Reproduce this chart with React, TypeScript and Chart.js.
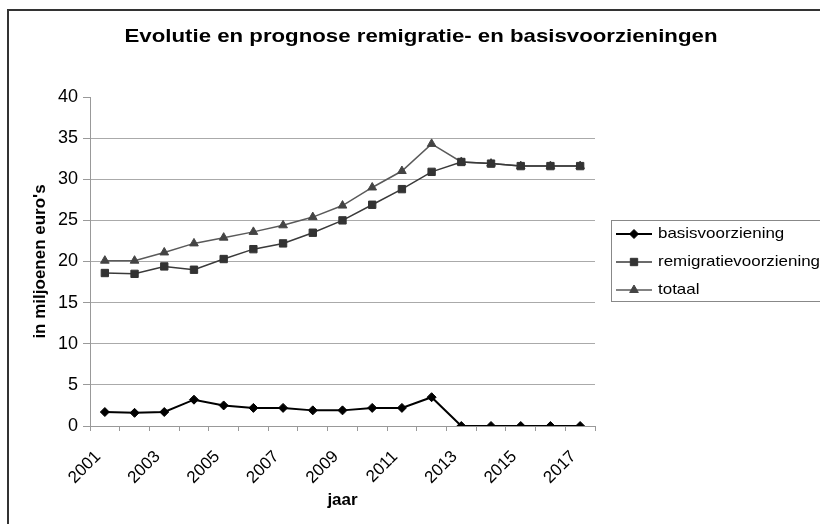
import React, { useEffect, useRef } from "react";
import { Chart, registerables } from "chart.js";

Chart.register(...registerables);

const years = ["2001","2002","2003","2004","2005","2006","2007","2008","2009","2010","2011","2012","2013","2014","2015","2016","2017"];
const basisvoorziening = [1.7, 1.6, 1.7, 3.2, 2.5, 2.2, 2.2, 1.9, 1.9, 2.2, 2.2, 3.5, 0, 0, 0, 0, 0];
const remigratievoorziening = [18.6, 18.5, 19.4, 19.0, 20.3, 21.5, 22.2, 23.5, 25.0, 26.9, 28.8, 30.9, 32.1, 31.9, 31.6, 31.6, 31.6];
const totaal = [20.1, 20.1, 21.1, 22.2, 22.9, 23.6, 24.4, 25.4, 26.8, 29.0, 31.0, 34.3, 32.1, 31.9, 31.6, 31.6, 31.6];
const yTicks = [0, 5, 10, 15, 20, 25, 30, 35, 40];
const chartTitle = "Evolutie en prognose remigratie- en basisvoorzieningen";

const FONT = "Arial, 'Liberation Sans', sans-serif";

function drawPoint(ctx: CanvasRenderingContext2D, style: string, r: number, x: number, y: number) {
  ctx.beginPath();
  if (style === "rectRot") {
    ctx.moveTo(x, y - r);
    ctx.lineTo(x + r, y);
    ctx.lineTo(x, y + r);
    ctx.lineTo(x - r, y);
    ctx.closePath();
  } else if (style === "rect") {
    const s = Math.SQRT1_2 * r;
    ctx.rect(x - s, y - s, 2 * s, 2 * s);
  } else {
    for (let k = 0; k < 3; k++) {
      const ang = -Math.PI / 2 + (k * 2 * Math.PI) / 3;
      const px = x + Math.cos(ang) * r;
      const py = y + Math.sin(ang) * r;
      if (k === 0) ctx.moveTo(px, py);
      else ctx.lineTo(px, py);
    }
    ctx.closePath();
  }
  ctx.fill();
  ctx.stroke();
}

const frameAndLegend = {
  id: "frameAndLegend",
  afterDraw(chart: any) {
    const ctx = chart.ctx as CanvasRenderingContext2D;
    ctx.save();
    // outer frame
    ctx.strokeStyle = "#333";
    ctx.lineWidth = 2;
    ctx.strokeRect(8, 10, 830, 530);
    // title (horizontally widened like the original)
    ctx.save();
    ctx.translate(421, 42);
    ctx.scale(1.17, 1);
    ctx.fillStyle = "#000";
    ctx.font = `bold 19px ${FONT}`;
    ctx.textAlign = "center";
    ctx.textBaseline = "alphabetic";
    ctx.fillText(chartTitle, 0, 0);
    ctx.restore();
    // legend box
    ctx.strokeStyle = "#888";
    ctx.lineWidth = 1;
    ctx.strokeRect(611.5, 220.5, 230, 81);
    const rows = [234, 262, 290];
    chart.data.datasets.forEach((ds: any, i: number) => {
      const y = rows[i];
      ctx.strokeStyle = ds.borderColor;
      ctx.lineWidth = ds.borderWidth;
      ctx.beginPath();
      ctx.moveTo(616, y);
      ctx.lineTo(652, y);
      ctx.stroke();
      ctx.fillStyle = ds.pointBackgroundColor;
      ctx.strokeStyle = ds.pointBorderColor;
      ctx.lineWidth = 1;
      drawPoint(ctx, ds.pointStyle, ds.pointRadius, 634, y);
      ctx.save();
      ctx.translate(658, y);
      ctx.scale(1.13, 1);
      ctx.fillStyle = "#000";
      ctx.font = `15px ${FONT}`;
      ctx.textBaseline = "middle";
      ctx.textAlign = "left";
      ctx.fillText(ds.label, 0, 0);
      ctx.restore();
    });
    ctx.restore();
  },
};

export default function App() {
  const ref = useRef<HTMLCanvasElement | null>(null);
  useEffect(() => {
    document.body.style.margin = "0";
    const canvas = ref.current!;
    const chart = new Chart(canvas, {
      type: "line",
      data: {
        labels: years,
        datasets: [
          {
            label: "basisvoorziening",
            data: basisvoorziening,
            borderColor: "#000",
            backgroundColor: "#000",
            pointBackgroundColor: "#000",
            pointBorderColor: "#000",
            borderWidth: 2,
            pointStyle: "rectRot",
            pointRadius: 4.5,
            pointBorderWidth: 1,
          },
          {
            label: "remigratievoorziening",
            data: remigratievoorziening,
            borderColor: "#3a3a3a",
            backgroundColor: "#333",
            pointBackgroundColor: "#333",
            pointBorderColor: "#333",
            borderWidth: 1.5,
            pointStyle: "rect",
            pointRadius: 5.2,
            pointBorderWidth: 1,
          },
          {
            label: "totaal",
            data: totaal,
            borderColor: "#5a5a5a",
            backgroundColor: "#444",
            pointBackgroundColor: "#444",
            pointBorderColor: "#444",
            borderWidth: 1.5,
            pointStyle: "triangle",
            pointRadius: 5,
            pointBorderWidth: 1,
          },
        ] as any,
      },
      options: {
        responsive: false,
        animation: false,
        layout: { padding: { left: 0, right: 225, top: 97, bottom: 0 } },
        plugins: {
          legend: { display: false },
          tooltip: { enabled: false },
          title: { display: false },
        },
        scales: {
          x: {
            offset: true,
            grid: {
              offset: true,
              drawOnChartArea: false,
              drawTicks: true,
              tickLength: 5,
              color: "#999",
            },
            border: { color: "#999", width: 1 },
            ticks: {
              autoSkip: false,
              maxRotation: 45,
              minRotation: 45,
              padding: 9,
              color: "#000",
              font: { family: FONT, size: 17 },
              callback: (_v: any, i: number) => (i % 2 === 0 ? years[i] + "  " : ""),
            },
            title: {
              display: true,
              text: "jaar",
              color: "#000",
              font: { family: FONT, size: 17, weight: "bold" },
              padding: { top: 4, bottom: 13 },
            },
            afterFit: (s: any) => {
              s.height = 98;
            },
          },
          y: {
            min: 0,
            max: 40,
            afterBuildTicks: (s: any) => {
              s.ticks = yTicks.map((v) => ({ value: v }));
            },
            grid: {
              color: (c: any) => (c.tick && c.tick.value === 40 ? "rgba(0,0,0,0)" : "#aaa"),
              tickColor: "#999",
              tickLength: 7,
              lineWidth: 1,
            },
            border: { color: "#999", width: 1 },
            ticks: {
              padding: 5,
              color: "#000",
              font: { family: FONT, size: 18 },
            },
            title: {
              display: true,
              text: "in miljoenen euro's",
              color: "#000",
              font: { family: FONT, size: 17, weight: "bold" },
              padding: { top: 30, bottom: 4 },
            },
            afterFit: (s: any) => {
              s.width = 90;
            },
          },
        },
      },
      plugins: [frameAndLegend],
    });
    return () => chart.destroy();
  }, []);
  return (
    <div style={{ width: 820, height: 524 }}>
      <canvas ref={ref} width={820} height={524} style={{ display: "block" }} />
    </div>
  );
}
